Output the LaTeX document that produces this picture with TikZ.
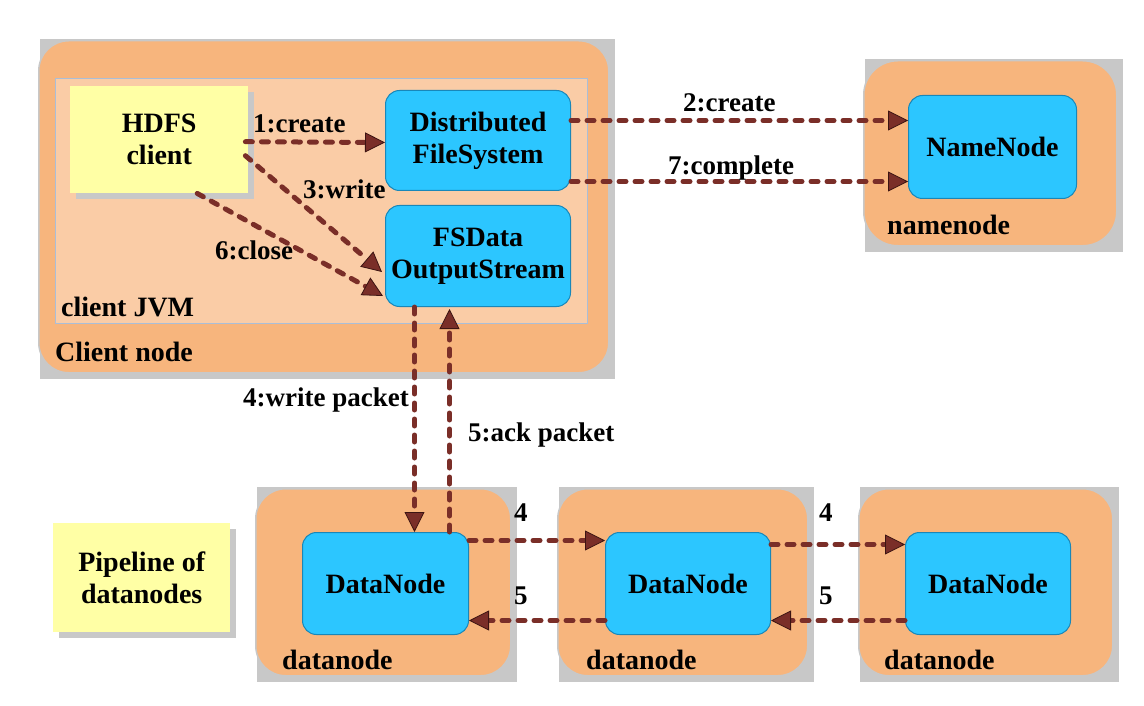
\documentclass[tikz,border=0pt]{standalone}
\usepackage{fontspec}
\setmainfont{Liberation Serif}
\usetikzlibrary{arrows.meta,calc,backgrounds}
\definecolor{orng}{RGB}{247,181,125}
\definecolor{jvm}{RGB}{250,204,166}
\definecolor{jvmline}{RGB}{170,190,215}
\definecolor{cyanb}{RGB}{44,198,255}
\definecolor{cyand}{RGB}{25,135,185}
\definecolor{yel}{RGB}{255,255,165}
\definecolor{shd}{RGB}{200,200,200}
\definecolor{arrc}{RGB}{122,46,40}
\definecolor{arrdark}{RGB}{60,20,18}
\begin{document}
\begin{tikzpicture}[x=1pt,y=-1pt,
  font=\fontsize{28}{32}\selectfont\bfseries,
  outerbox/.style={draw=shd, line width=1.5pt, fill=orng, rounded corners=30pt, anchor=north west, inner sep=0pt},
  jvmbox/.style={draw=jvmline, line width=1.2pt, fill=jvm, anchor=north west, inner sep=0pt},
  cbox/.style={draw=cyand, line width=1pt, fill=cyanb, rounded corners=14pt, anchor=north west, inner sep=0pt, align=center},
  ybox/.style={fill=yel, anchor=north west, inner sep=0pt, align=center},
  lbl/.style={anchor=base west, inner sep=0pt, font=\fontsize{27}{30}\selectfont\bfseries},
  blbl/.style={anchor=base west, inner sep=0pt},
  arr/.style={draw=arrc, line width=5pt, dash pattern=on 7pt off 9pt, line cap=round,
    -{Triangle[length=20pt,width=20pt,line width=0.8pt,color=arrdark,fill=arrc]}}
]
\useasboundingbox (0,0) rectangle (1144,706);

% outer boxes
\node[outerbox, minimum width=570, minimum height=332] (client) at (38,40) {};
\node[outerbox, minimum width=253, minimum height=185, rounded corners=34pt] (nnode) at (863,60) {};
\node[outerbox, minimum width=255, minimum height=187] (dnode1) at (255,488) {};
\node[outerbox, minimum width=250, minimum height=187] (dnode2) at (557,488) {};
\node[outerbox, minimum width=254, minimum height=187] (dnode3) at (858,488) {};

\begin{scope}[on background layer]
  \foreach \b in {client,nnode,dnode1,dnode2,dnode3}{
    \fill[shd] ($(\b.north west)+(2,-1)$) rectangle ($(\b.south east)+(5,5)$);
  }
\end{scope}

% client JVM
\node[jvmbox, minimum width=532, minimum height=245] (jvm) at (55,78) {};

% yellow boxes with shadows
\fill[shd] (76,92) rectangle (254,199);
\node[ybox, minimum width=178, minimum height=107] (hdfs) at (70,86) {HDFS\\client};
\fill[shd] (59,529) rectangle (236,638);
\node[ybox, minimum width=177, minimum height=109] (pipe) at (53,523) {Pipeline of\\datanodes};

% cyan boxes
\node[cbox, minimum width=185, minimum height=100] (dfs) at (385,90) {Distributed\\FileSystem};
\node[cbox, minimum width=185, minimum height=101] (fsdos) at (385,205) {FSData\\OutputStream};
\node[cbox, minimum width=168, minimum height=103] (nn) at (908,95) {NameNode};
\node[cbox, minimum width=166, minimum height=102] (dn1) at (302,532) {DataNode};
\node[cbox, minimum width=165, minimum height=102] (dn2) at (605,532) {DataNode};
\node[cbox, minimum width=165, minimum height=102] (dn3) at (905,532) {DataNode};

% box labels
\node[blbl] (lclient) at (55,361) {Client node};
\node[blbl] (ljvm) at (61,316) {client JVM};
\node[blbl] (lnn) at (887,234) {namenode};
\node[blbl] (ldn1) at (282,669) {datanode};
\node[blbl] (ldn2) at (586,669) {datanode};
\node[blbl] (ldn3) at (884,669) {datanode};

% connectors
\draw[arr] ($(hdfs.east)+(-3,2)$) -- ($(dfs.west)+(0,2)$);
\draw[arr] ($(hdfs.east)+(-3,16)$) -- ($(fsdos.west)+(-3,16)$);
\draw[arr] ($(hdfs.south)+(38,0)$) -- ($(fsdos.west)+(-2,40)$);
\draw[arr] ($(dfs.east)+(0,-20)$) -- ($(nn.west)+(0,-26.5)$);
\draw[arr] ($(dfs.east)+(0,41)$) -- ($(nn.west)+(0,34.5)$);
\draw[arr] ($(fsdos.south)+(-63.5,0)$) -- ($(dn1.north)+(29,0)$);
\draw[arr] ($(dn1.north)+(64,0)$) -- ($(fsdos.south)+(-28.5,2)$);
\draw[arr] ($(dn1.east)+(0,-43)$) -- ($(dn2.west)+(0,-43)$);
\draw[arr] ($(dn2.west)+(0,37)$) -- ($(dn1.east)+(0,37)$);
\draw[arr] ($(dn2.east)+(0,-39)$) -- ($(dn3.west)+(0,-39)$);
\draw[arr] ($(dn3.west)+(0,37)$) -- ($(dn2.east)+(0,37)$);

% connector labels
\node[lbl] (l1) at (253,133) {1:create};
\node[lbl] (l3) at (303,198) {3:write};
\node[lbl] (l6) at (215,259) {6:close};
\node[lbl] (l2) at (683,112) {2:create};
\node[lbl] (l7) at (668,175) {7:complete};
\node[lbl] (l4w) at (243,406) {4:write packet};
\node[lbl] (l5a) at (468,441) {5:ack packet};
\node[lbl] (l4a) at (514,521) {4};
\node[lbl] (l5b) at (514,604) {5};
\node[lbl] (l4c) at (819,521) {4};
\node[lbl] (l5d) at (819,604) {5};
\end{tikzpicture}
\end{document}
